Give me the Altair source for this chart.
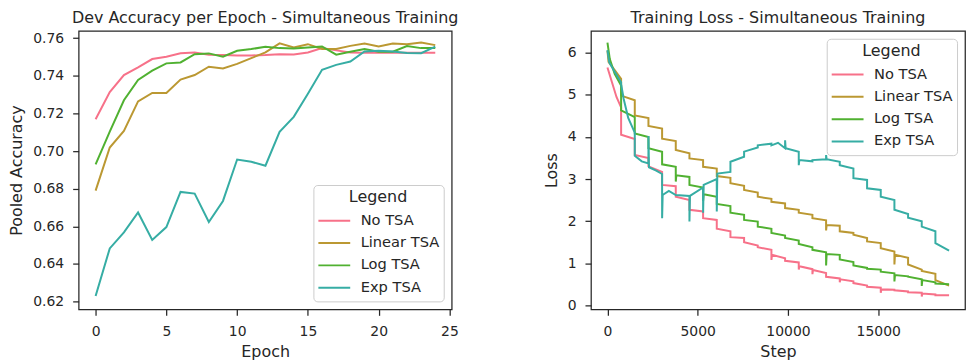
import altair as alt
import pandas as pd

SERIES = ["No TSA", "Linear TSA", "Log TSA", "Exp TSA"]
COLORS = ["#f77189", "#bb9832", "#50b131", "#36ada4"]
FONT = "DejaVu Sans"
INK = "#262626"

# ---------------- Dev accuracy per epoch ----------------
EPOCHS = list(range(25))
ACC_NO = [0.7169, 0.7313, 0.7404, 0.7445, 0.7489, 0.7501, 0.7520, 0.7524, 0.7512, 0.7510,
          0.7508, 0.7508, 0.7510, 0.7515, 0.7513, 0.7524, 0.7547, 0.7535, 0.7524, 0.7523,
          0.7523, 0.7523, 0.7523, 0.7523, 0.7522]
ACC_LIN = [0.6790, 0.7019, 0.7107, 0.7264, 0.7309, 0.7309, 0.7380, 0.7404, 0.7448, 0.7439,
           0.7463, 0.7494, 0.7524, 0.7572, 0.7550, 0.7568, 0.7542, 0.7542, 0.7559, 0.7572,
           0.7556, 0.7572, 0.7568, 0.7577, 0.7563]
ACC_LOG = [0.6929, 0.7103, 0.7270, 0.7378, 0.7427, 0.7466, 0.7471, 0.7515, 0.7519, 0.7501,
           0.7533, 0.7542, 0.7554, 0.7547, 0.7545, 0.7550, 0.7556, 0.7512, 0.7528, 0.7542,
           0.7528, 0.7528, 0.7558, 0.7547, 0.7547]
ACC_EXP = [0.6230, 0.6483, 0.6568, 0.6674, 0.6528, 0.6596, 0.6783, 0.6774, 0.6623, 0.6735,
           0.6955, 0.6943, 0.6922, 0.7102, 0.7182, 0.7304, 0.7432, 0.7458, 0.7476, 0.7529,
           0.7533, 0.7529, 0.7521, 0.7520, 0.7555]

# ---------------- Training loss per step ----------------
EPOCH_STEPS = [0, 757, 1514, 2271, 3028, 3785, 4542, 5299, 6056, 6813, 7570, 8327, 9084,
               9841, 10598, 11355, 12112, 12869, 13626, 14383, 15140, 15897, 16654, 17411,
               18168, 18925]

NO_START = [5.65, 4.05, 3.57, 3.30, 2.86, 2.58, 2.27, 2.07, 1.82, 1.62, 1.50, 1.38, 1.20,
            1.06, 0.93, 0.84, 0.68, 0.62, 0.53, 0.44, 0.38, 0.36, 0.31, 0.28, 0.24]
NO_END = [4.70, 3.95, 3.50, 3.17, 2.83, 2.50, 2.23, 2.03, 1.76, 1.60, 1.42, 1.32, 1.12,
          1.02, 0.86, 0.77, 0.64, 0.57, 0.47, 0.42, 0.37, 0.33, 0.30, 0.26, 0.24]
NO_SPIKES = {12: 1.08, 14: 0.85, 15: 0.74, 17: 0.55, 20: 0.30, 23: 0.21}
NO_EXTRA = [(250, 5.30), (500, 4.95)]

LIN_START = [6.05, 4.98, 4.51, 4.26, 3.96, 3.69, 3.49, 3.29, 3.07, 2.90, 2.74, 2.58, 2.46,
             2.31, 2.20, 2.07, 1.91, 1.76, 1.68, 1.52, 1.36, 1.20, 0.97, 0.82, 0.60]
LIN_END = [5.38, 4.87, 4.45, 4.20, 3.90, 3.61, 3.45, 3.25, 3.03, 2.84, 2.68, 2.53, 2.42,
           2.27, 2.15, 2.02, 1.89, 1.72, 1.60, 1.48, 1.28, 1.13, 0.85, 0.75, 0.47]
LIN_SPIKES = {16: 1.78, 21: 0.97}
LIN_EXTRA = [(60, 5.78), (380, 5.60)]

LOG_START = [6.24, 4.63, 4.08, 3.73, 3.35, 3.09, 2.86, 2.64, 2.41, 2.20, 2.03, 1.87, 1.72,
             1.60, 1.46, 1.32, 1.22, 1.09, 0.95, 0.87, 0.80, 0.72, 0.68, 0.60, 0.52]
LOG_END = [5.22, 4.47, 4.00, 3.65, 3.29, 3.05, 2.80, 2.58, 2.36, 2.15, 1.99, 1.82, 1.66,
           1.54, 1.38, 1.26, 1.20, 1.03, 0.89, 0.85, 0.76, 0.69, 0.62, 0.55, 0.50]
LOG_SPIKES = {5: 2.94, 7: 2.48, 16: 0.95, 21: 0.57, 23: 0.46}
LOG_EXTRA = [(130, 5.85), (400, 5.50)]

EXP_START = [6.06, 5.25, 3.55, 3.28, 2.62, 2.62, 2.60, 2.86, 3.13, 3.41, 3.65, 3.80, 3.80,
             3.73, 3.45, 3.45, 3.47, 3.33, 3.02, 2.78, 2.58, 2.27, 2.08, 1.87, 1.48]
EXP_END = [5.30, 4.10, 3.37, 3.12, 2.62, 2.60, 2.80, 3.00, 3.17, 3.53, 3.75, 3.84, 3.73,
           3.65, 3.42, 3.47, 3.41, 3.25, 2.98, 2.74, 2.50, 2.17, 2.00, 1.76, 1.30]
EXP_SPIKES = {3: 4.02, 4: 2.07, 6: 1.99, 7: 2.20, 8: 2.23, 13: 3.92, 14: 3.33, 16: 3.57}
EXP_EXTRA = [(100, 5.77), (400, 5.55), (900, 4.90), (1150, 4.45), (1900, 3.42),
             (2700, 3.20), (3400, 2.72), (9450, 3.86)]

# ---------------- tables ----------------
acc_rows = []
for name, vals in zip(SERIES, [ACC_NO, ACC_LIN, ACC_LOG, ACC_EXP]):
    for e, v in zip(EPOCHS, vals):
        acc_rows.append({"Epoch": e, "Accuracy": v, "Legend": name})
acc_df = pd.DataFrame(acc_rows)


def loss_points(name, starts, ends, spikes, extras):
    pts = []
    for k in range(len(starts)):
        s0 = EPOCH_STEPS[k]
        if k in spikes:
            pts.append((s0, spikes[k]))
            pts.append((s0 + 30, starts[k]))
        else:
            pts.append((s0, starts[k]))
        pts.append((EPOCH_STEPS[k + 1] - 1, ends[k]))
    pts.extend(extras)
    pts.sort()
    return [{"Step": s, "Loss": v, "Legend": name} for s, v in pts]


loss_rows = []
loss_rows += loss_points("No TSA", NO_START, NO_END, NO_SPIKES, NO_EXTRA)
loss_rows += loss_points("Linear TSA", LIN_START, LIN_END, LIN_SPIKES, LIN_EXTRA)
loss_rows += loss_points("Log TSA", LOG_START, LOG_END, LOG_SPIKES, LOG_EXTRA)
loss_rows += loss_points("Exp TSA", EXP_START, EXP_END, EXP_SPIKES, EXP_EXTRA)
loss_df = pd.DataFrame(loss_rows)

color_scale = alt.Scale(domain=SERIES, range=COLORS)


def make_legend(orient):
    return alt.Legend(
        title="Legend", orient=orient, offset=8,
        symbolType="stroke", symbolSize=1024, symbolStrokeWidth=2,
        clipHeight=18, rowPadding=4.4,
        labelFont=FONT, labelFontSize=14.7, labelColor=INK, labelOffset=9.5,
        titleFont=FONT, titleFontSize=16, titleFontWeight="normal", titleColor=INK,
        titleAnchor="middle", titlePadding=7, padding=4,
        strokeColor="#cccccc", fillColor="rgba(255,255,255,0.8)", cornerRadius=4,
    )


left = alt.Chart(acc_df).mark_line(strokeWidth=2).encode(
    x=alt.X("Epoch:Q",
            scale=alt.Scale(domain=[-1.2, 25.16], nice=False, zero=False),
            axis=alt.Axis(values=[0, 5, 10, 15, 20, 25], title="Epoch", titlePadding=5)),
    y=alt.Y("Accuracy:Q",
            scale=alt.Scale(domain=[0.6159, 0.7639], nice=False, zero=False),
            axis=alt.Axis(values=[0.62, 0.64, 0.66, 0.68, 0.70, 0.72, 0.74, 0.76],
                          format=".2f", title="Pooled Accuracy", titlePadding=8)),
    color=alt.Color("Legend:N", scale=color_scale, legend=make_legend("bottom-right")),
).properties(width=375, height=280,
             title=alt.Title("Dev Accuracy per Epoch - Simultaneous Training"))

right = alt.Chart(loss_df).mark_line(strokeWidth=2).encode(
    x=alt.X("Step:Q",
            scale=alt.Scale(domain=[-914, 19807], nice=False, zero=False),
            axis=alt.Axis(values=[0, 5000, 10000, 15000], format="d", title="Step",
                          titlePadding=5)),
    y=alt.Y("Loss:Q",
            scale=alt.Scale(domain=[-0.094, 6.52], nice=False, zero=False),
            axis=alt.Axis(values=[0, 1, 2, 3, 4, 5, 6], format="d", title="Loss",
                          titlePadding=8)),
    color=alt.Color("Legend:N", scale=color_scale, legend=make_legend("top-right")),
).properties(width=376, height=280,
             title=alt.Title("Training Loss - Simultaneous Training"))

chart = (
    alt.hconcat(left, right, spacing=83)
    .resolve_scale(color="independent")
    .properties(padding=0)
    .configure_view(stroke=INK, strokeWidth=1.25)
    .configure_axis(domain=False, grid=False, ticks=True, tickSize=6, tickWidth=1.25,
                    tickColor=INK, labelFont=FONT, labelFontSize=14, labelColor=INK,
                    labelPadding=9, titleFont=FONT, titleFontSize=16,
                    titleFontWeight="normal", titleColor=INK)
    .configure_title(font=FONT, fontSize=16, fontWeight="normal", color=INK,
                     anchor="middle", frame="group", offset=5)
)

chart.save("out.html", embed_options={"renderer": "svg", "actions": False})
